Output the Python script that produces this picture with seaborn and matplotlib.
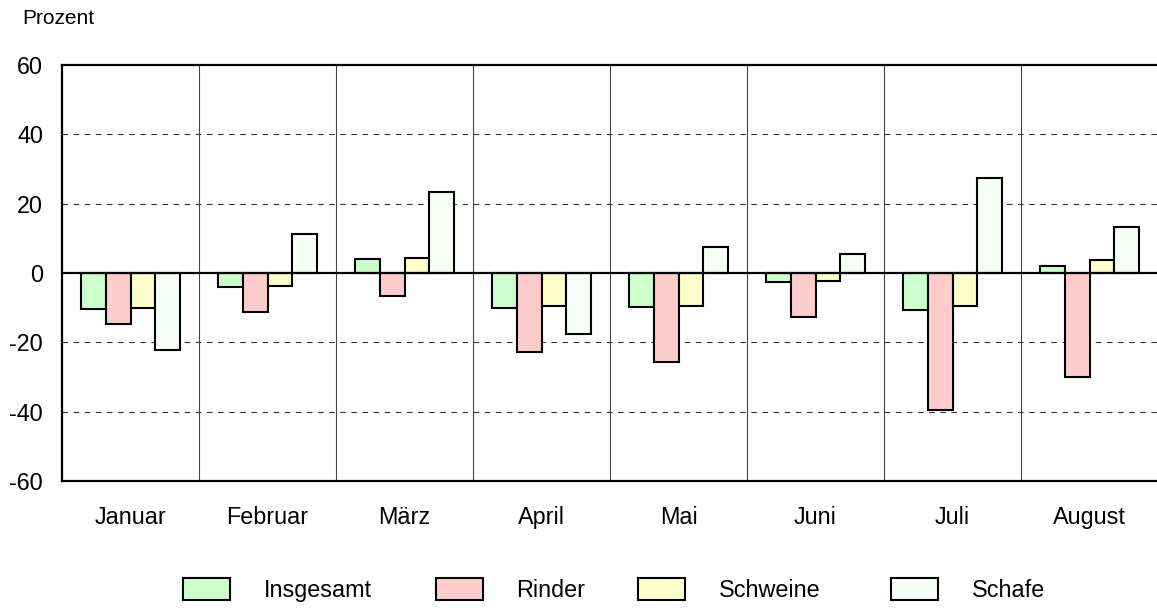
import pandas as pd
import seaborn as sns
import matplotlib.pyplot as plt
from matplotlib.patches import Patch

# Werte (Prozent)
monate = ['Januar', 'Februar', 'März', 'April', 'Mai', 'Juni', 'Juli', 'August']
arten = ['Insgesamt', 'Rinder', 'Schweine', 'Schafe']
insgesamt = [-10.3, -4.1, 3.9, -10.2, -9.8, -2.6, -10.8, 2.0]
rinder = [-14.7, -11.2, -6.5, -22.7, -25.6, -12.8, -39.5, -29.9]
schweine = [-10.1, -3.8, 4.2, -9.6, -9.4, -2.2, -9.4, 3.7]
schafe = [-22.3, 11.3, 23.4, -17.6, 7.4, 5.6, 27.3, 13.2]
y_ticks = [-60, -40, -20, 0, 20, 40, 60]
farben = ['#ccffcc', '#ffcccc', '#ffffcc', '#f5fff5']

# long format for seaborn
reihen = {'Insgesamt': insgesamt, 'Rinder': rinder, 'Schweine': schweine, 'Schafe': schafe}
rows = []
for art in arten:
    for monat, wert in zip(monate, reihen[art]):
        rows.append([monat, art, wert])
df = pd.DataFrame(rows, columns=['Monat', 'Art', 'Prozent'])

sns.set_style('white')
plt.rcParams['font.family'] = ['Liberation Sans', 'DejaVu Sans']
plt.rcParams['axes.unicode_minus'] = False
plt.rcParams['text.color'] = 'black'

W, H = 1157, 613
fig = plt.figure(figsize=(W / 100, H / 100), dpi=100)
ax = fig.add_axes([62 / W, 1 - 481 / H, 1096 / W, 416 / H])

# grid lines behind the bars
for y in [-40, -20, 20, 40]:
    ax.axhline(y, color='#333333', lw=0.8, ls=(0, (5, 5)), zorder=0)
for i in range(len(monate) - 1):
    ax.axvline(i + 0.5, color='#444444', lw=0.8, zorder=0)

sns.barplot(data=df, x='Monat', y='Prozent', hue='Art', hue_order=arten,
            order=monate, palette=farben, saturation=1, width=0.725,
            edgecolor='black', linewidth=1.5, legend=False, ax=ax, zorder=2)

ax.axhline(0, color='black', lw=1.6, zorder=3)

ax.set_ylim(-60, 60)
ax.set_xlim(-0.5, len(monate) - 0.5)
ax.set_yticks(y_ticks)
ax.set_xlabel('')
ax.set_ylabel('')
ax.tick_params(axis='both', length=0, labelsize=16.8, colors='black')
ax.tick_params(axis='y', pad=13.5)
ax.tick_params(axis='x', pad=18)

for side in ['left', 'top', 'bottom']:
    ax.spines[side].set_color('black')
    ax.spines[side].set_linewidth(1.6)
ax.spines['right'].set_visible(False)

fig.text(22 / W, 1 - 18 / H, 'Prozent', fontsize=15, va='center', ha='left', color='black')

# legend, one entry per slot like in the original
legend_x = [183, 436, 638, 891]
for art, farbe, x in zip(arten, farben, legend_x):
    fig.legend(handles=[Patch(facecolor=farbe, edgecolor='black', lw=1.5)],
               labels=[art], loc='center left', bbox_to_anchor=(x / W, 1 - 590 / H),
               frameon=False, fontsize=16.8, handlelength=2.0, handleheight=1.03,
               handletextpad=1.45, borderpad=0, borderaxespad=0, labelcolor='black')

plt.savefig('out.png', dpi=100)
